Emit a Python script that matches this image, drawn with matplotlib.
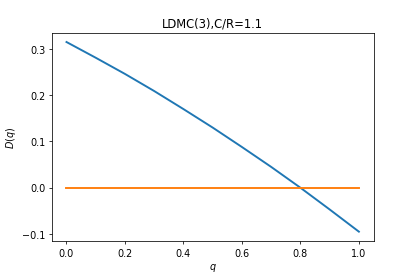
import matplotlib
matplotlib.use("Agg")
import matplotlib.pyplot as plt

q = [0.0, 0.1, 0.2, 0.3, 0.4, 0.5, 0.6, 0.7, 0.8, 0.9, 1.0]
D = [0.315, 0.281, 0.246, 0.209, 0.170, 0.130, 0.088, 0.045, 0.0, -0.047, -0.095]
zero_q = [0.0, 1.0]
zero_D = [0.0, 0.0]

fig, ax = plt.subplots(figsize=(6, 4), dpi=415/6)
fig.subplots_adjust(left=0.125, right=0.9, top=0.88, bottom=0.126)
ax.plot(q, D, linewidth=2)
ax.plot(zero_q, zero_D, linewidth=2)
ax.set_title("LDMC(3),C/R=1.1")
ax.set_xlabel("$q$")
ax.set_ylabel("$D(q)$")
fig.savefig("out.png", dpi=415/6)
